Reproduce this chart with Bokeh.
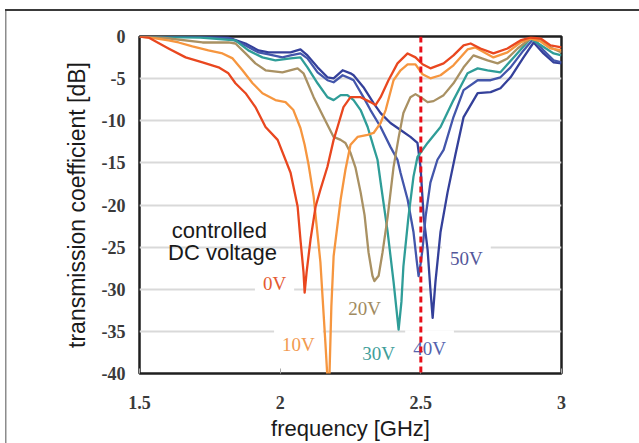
from bokeh.plotting import figure
from bokeh.models import FixedTicker, Label, Span
from bokeh.embed import file_html
from bokeh.resources import INLINE

# ---------------- data ----------------
freq_0V = [1.500,1.532,1.603,1.664,1.724,1.781,1.816,1.841,1.877,1.912,1.948,1.991,2.037,2.062,2.072,2.083,2.087,2.094,2.108,2.126,2.143,2.168,2.190,2.204,2.225,2.250,2.286,2.321,2.339,2.357,2.385,2.417,2.453,2.481,2.506,2.534,2.581,2.616,2.652,2.677,2.712,2.758,2.808,2.854,2.890,2.926,2.961,3.000]
db_0V = [0,-0.12,-1.42,-2.48,-3.07,-3.66,-4.37,-5.55,-6.73,-8.38,-10.74,-12.27,-16.17,-20.18,-24.07,-27.96,-30.4,-27.96,-24.07,-20.18,-18.17,-15.46,-12.27,-10.74,-8.38,-7.20,-7.20,-7.79,-8.14,-7.20,-5.19,-3.19,-2.01,-2.48,-3.30,-3.78,-3.19,-2.24,-1.06,-0.83,-1.42,-2.01,-1.42,-0.47,-0.12,-0.24,-1.06,-1.30]

freq_10V = [1.500,1.539,1.603,1.639,1.688,1.745,1.795,1.831,1.866,1.902,1.937,1.983,2.019,2.047,2.072,2.087,2.101,2.119,2.143,2.161,2.168,2.175,2.182,2.190,2.204,2.215,2.232,2.250,2.275,2.311,2.332,2.357,2.375,2.403,2.428,2.453,2.481,2.506,2.534,2.570,2.616,2.666,2.694,2.758,2.808,2.854,2.890,2.926,2.961,3.000]
db_10V = [0,-0.12,-0.47,-0.71,-1.18,-1.65,-2.01,-2.60,-4.01,-5.55,-6.73,-7.55,-7.79,-8.73,-10.86,-12.86,-15.22,-19.00,-26.78,-36.5,-40.5,-40.5,-32.0,-26.08,-22.30,-19.35,-15.81,-12.86,-11.92,-11.68,-11.45,-10.27,-8.73,-5.19,-4.01,-3.30,-3.30,-4.48,-4.96,-4.60,-3.42,-1.53,-1.30,-2.48,-1.89,-0.71,-0.24,-0.59,-1.42,-1.65]

freq_20V = [1.500,1.575,1.724,1.816,1.841,1.877,1.912,1.948,2.008,2.062,2.083,2.119,2.154,2.190,2.215,2.232,2.250,2.268,2.286,2.300,2.314,2.328,2.335,2.350,2.364,2.382,2.403,2.421,2.438,2.463,2.481,2.499,2.524,2.545,2.581,2.616,2.652,2.687,2.737,2.773,2.808,2.844,2.890,2.926,2.961,3.000]
db_20V = [0,-0.12,-0.71,-0.71,-0.83,-2.01,-3.19,-4.01,-4.25,-3.78,-4.37,-7.20,-9.56,-11.92,-12.27,-12.63,-13.81,-15.6,-18.5,-21.2,-25.6,-28.4,-29.03,-28.4,-25.6,-21.4,-15.5,-12.0,-9.09,-7.20,-6.84,-7.20,-7.79,-7.67,-6.96,-5.55,-3.66,-2.24,-2.83,-3.19,-2.60,-1.42,-0.24,-0.35,-1.30,-1.89]

freq_30V = [1.500,1.717,1.841,1.887,1.937,1.983,2.037,2.072,2.097,2.133,2.168,2.190,2.215,2.239,2.261,2.286,2.311,2.332,2.346,2.357,2.382,2.403,2.421,2.431,2.438,2.456,2.474,2.488,2.524,2.570,2.616,2.666,2.702,2.737,2.783,2.830,2.890,2.972,3.000]
db_30V = [0,-0.12,-0.47,-1.65,-2.48,-2.83,-2.60,-2.48,-3.66,-5.55,-7.20,-7.55,-6.96,-6.96,-7.55,-8.73,-10.74,-13.10,-14.63,-17.3,-23.2,-29.1,-34.8,-31.5,-27.3,-21.4,-16.6,-14.3,-12.63,-10.74,-7.55,-4.37,-3.78,-4.01,-4.25,-2.48,-0.24,-2.01,-2.24]

freq_40V = [1.500,1.717,1.824,1.877,1.923,1.959,2.008,2.037,2.072,2.097,2.133,2.168,2.190,2.222,2.250,2.261,2.296,2.321,2.357,2.392,2.417,2.428,2.453,2.474,2.485,2.492,2.499,2.506,2.517,2.534,2.559,2.581,2.616,2.652,2.702,2.748,2.783,2.819,2.865,2.901,2.936,2.972,3.000]
db_40V = [0,0,-0.24,-1.06,-1.89,-2.12,-2.48,-2.24,-2.01,-2.60,-4.25,-5.19,-5.43,-4.60,-5.0,-5.19,-7.20,-8.73,-10.74,-13.10,-14.63,-16.2,-19.35,-23.24,-26.5,-28.44,-27.0,-25.25,-21.36,-17.35,-14.63,-13.45,-9.56,-6.37,-5.19,-5.19,-4.84,-3.66,-1.65,-0.24,-1.65,-2.83,-3.07]

freq_50V = [1.500,1.717,1.816,1.877,1.923,1.959,2.008,2.037,2.072,2.097,2.133,2.168,2.190,2.222,2.250,2.261,2.296,2.332,2.357,2.392,2.428,2.463,2.488,2.499,2.510,2.524,2.534,2.542,2.552,2.570,2.595,2.623,2.652,2.702,2.748,2.783,2.819,2.865,2.901,2.936,2.972,3.000]
db_50V = [0,0,-0.12,-0.83,-1.65,-1.89,-1.89,-1.89,-1.53,-2.24,-3.66,-4.84,-4.96,-4.01,-4.37,-4.60,-6.02,-7.91,-9.09,-10.27,-11.09,-11.92,-12.63,-15.5,-21.4,-25.3,-30.0,-33.4,-29.1,-23.2,-18.5,-14.0,-9.56,-6.73,-6.61,-6.14,-4.84,-2.48,-0.71,-2.01,-3.07,-3.19]

series_names = ["50V", "40V", "30V", "20V", "10V", "0V"]
series_freqs = [freq_50V, freq_40V, freq_30V, freq_20V, freq_10V, freq_0V]
series_dbs = [db_50V, db_40V, db_30V, db_20V, db_10V, db_0V]
series_colors = ["#34409a", "#4356ab", "#2f9d98", "#a99163", "#f6963f", "#e9471f"]

label_texts = ["0V", "10V", "20V", "30V", "40V", "50V"]
label_freq = [1.980, 2.065, 2.300, 2.350, 2.531, 2.662]
label_db = [-29.3, -36.5, -32.3, -37.6, -37.05, -26.4]
label_colors = ["#e45a32", "#f29a50", "#a08a60", "#3f9e9a", "#5563ae", "#54579a"]

note_texts = ["controlled", "DC voltage"]
note_freq = [1.784, 1.795]
note_db = [-23.0, -25.6]

marker_freq = 2.5

x_ticks = [1.5, 2.0, 2.5, 3.0]
x_tick_labels = ["1.5", "2", "2.5", "3"]
y_ticks = [0, -5, -10, -15, -20, -25, -30, -35, -40]
y_tick_labels = ["0", "-5", "-10", "-15", "-20", "-25", "-30", "-35", "-40"]

# ---------------- figure ----------------
p = figure(width=639, height=443, x_range=(1.5, 3.0), y_range=(-40, 0),
           output_backend="svg", toolbar_location=None,
           min_border_left=139, min_border_right=78,
           min_border_top=36, min_border_bottom=68)
p.background_fill_color = "white"
p.border_fill_color = None
p.outline_line_color = "#1f1f1f"
p.outline_line_width = 2.5
# thin outer frame (top and left edges) drawn behind the transparent canvas border
p.styles = {
    "background-color": "white",
    "background-image": "linear-gradient(#3a3a3a, #3a3a3a), linear-gradient(#8c8c8c, #8c8c8c)",
    "background-size": "634px 2px, 1.5px 440px",
    "background-position": "5px 9px, 5px 9px",
    "background-repeat": "no-repeat",
}

p.xgrid.visible = False
p.ygrid.ticker = FixedTicker(ticks=y_ticks)
p.ygrid.grid_line_color = "#d9d9d9"
p.ygrid.grid_line_width = 2

xa = p.xaxis[0]
xa.ticker = FixedTicker(ticks=x_ticks)
xa.major_label_overrides = {t: l for t, l in zip(x_ticks, x_tick_labels)}
xa.axis_line_color = None
xa.major_tick_in = 5
xa.major_tick_out = 0
xa.major_tick_line_color = "#aaaaaa"
xa.minor_tick_line_color = None
xa.major_label_text_font = "Liberation Serif"
xa.major_label_text_font_style = "bold"
xa.major_label_text_font_size = "18px"
xa.major_label_text_color = "#3a3a3a"
xa.major_label_standoff = 22
xa.axis_label = "frequency [GHz]"
xa.axis_label_text_font = "Liberation Sans"
xa.axis_label_text_font_style = "normal"
xa.axis_label_text_font_size = "22px"
xa.axis_label_text_color = "#1a1a1a"
xa.axis_label_standoff = 4

ya = p.yaxis[0]
ya.ticker = FixedTicker(ticks=y_ticks)
ya.major_label_overrides = {t: l for t, l in zip(y_ticks, y_tick_labels)}
ya.axis_line_color = None
ya.major_tick_in = 0
ya.major_tick_out = 0
ya.minor_tick_line_color = None
ya.major_label_text_font = "Liberation Serif"
ya.major_label_text_font_style = "bold"
ya.major_label_text_font_size = "18px"
ya.major_label_text_color = "#3a3a3a"
ya.major_label_standoff = 14
ya.axis_label = "transmission coefficient [dB]"
ya.axis_label_text_font = "Liberation Sans"
ya.axis_label_text_font_style = "normal"
ya.axis_label_text_font_size = "23px"
ya.axis_label_text_color = "#1a1a1a"
ya.axis_label_standoff = 9

# white boxes behind the labels (under curves, above grid)
for t, fx, fy, c in zip(label_texts, label_freq, label_db, label_colors):
    p.add_layout(Label(x=fx, y=fy, text=t, text_align="center", text_baseline="middle",
                       text_font="Liberation Serif", text_font_size="19px", text_color=c,
                       background_fill_color="white", padding=8, level="underlay"))
for t, fx, fy in zip(note_texts, note_freq, note_db):
    p.add_layout(Label(x=fx, y=fy, text=t, text_align="center", text_baseline="middle",
                       text_font="Liberation Sans", text_font_size="22px", text_alpha=0,
                       background_fill_color="white", padding=4, level="underlay"))
for t, fx, fy in zip(note_texts, note_freq, note_db):
    p.add_layout(Label(x=fx, y=fy, text=t, text_align="center", text_baseline="middle",
                       text_font="Liberation Sans", text_font_size="22px", text_color="#1a1a1a",
                       level="underlay"))

for fx, dy, c in zip(series_freqs, series_dbs, series_colors):
    p.line(fx, dy, line_color=c, line_width=2.3, line_join="round")

p.add_layout(Span(location=marker_freq, dimension="height", line_color="#e8101a",
                  line_width=3, line_dash="6 4"))

open("out.html", "w").write(file_html(p, INLINE))
